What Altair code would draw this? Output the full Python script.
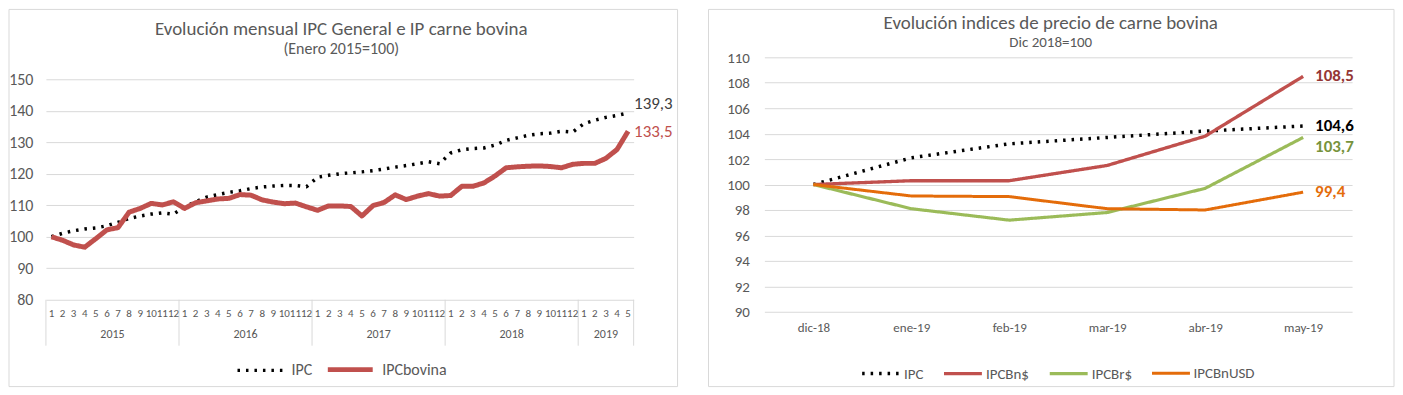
import altair as alt
import pandas as pd

FONT = "Carlito, Liberation Sans Narrow, Liberation Sans, sans-serif"
GRAY = "#595959"
GRID = "#D9D9D9"

# ---------------- left chart data (Enero 2015 = 100) ----------------
anio = [2015, 2015, 2015, 2015, 2015, 2015, 2015, 2015, 2015, 2015, 2015, 2015,
        2016, 2016, 2016, 2016, 2016, 2016, 2016, 2016, 2016, 2016, 2016, 2016,
        2017, 2017, 2017, 2017, 2017, 2017, 2017, 2017, 2017, 2017, 2017, 2017,
        2018, 2018, 2018, 2018, 2018, 2018, 2018, 2018, 2018, 2018, 2018, 2018,
        2019, 2019, 2019, 2019, 2019]
mes = [1, 2, 3, 4, 5, 6, 7, 8, 9, 10, 11, 12,
       1, 2, 3, 4, 5, 6, 7, 8, 9, 10, 11, 12,
       1, 2, 3, 4, 5, 6, 7, 8, 9, 10, 11, 12,
       1, 2, 3, 4, 5, 6, 7, 8, 9, 10, 11, 12,
       1, 2, 3, 4, 5]
ipc = [100.0, 101.1, 101.9, 102.5, 102.8, 103.5, 104.6, 105.8, 106.6, 107.2, 107.6, 107.2,
       109.5, 111.1, 112.6, 113.4, 114.1, 114.6, 115.3, 115.8, 116.1, 116.3, 116.3, 115.9,
       118.9, 119.5, 120.0, 120.3, 120.6, 121.0, 121.5, 122.1, 122.6, 123.2, 123.8, 123.2,
       126.6, 127.6, 128.0, 128.2, 129.1, 130.6, 131.4, 132.2, 132.7, 132.9, 133.5, 133.2,
       135.9, 137.0, 137.9, 138.5, 139.3]
ipc_bovina = [100.0, 98.9, 97.4, 96.7, 99.4, 102.2, 102.9, 107.8, 109.0, 110.6, 110.1, 111.1,
              109.0, 110.8, 111.4, 112.0, 112.2, 113.4, 113.2, 111.7, 111.0, 110.5, 110.7, 109.5,
              108.4, 109.8, 109.8, 109.6, 106.6, 109.9, 110.9, 113.3, 111.8, 112.9, 113.7, 112.9,
              113.1, 116.0, 116.0, 117.1, 119.3, 121.9, 122.2, 122.4, 122.5, 122.3, 121.9, 123.0,
              123.3, 123.3, 124.9, 127.7, 133.5]
series_l = ["IPC", "IPCbovina"]
y_ticks_l = [80, 90, 100, 110, 120, 130, 140, 150]

# ---------------- right chart data (Dic 2018 = 100) ----------------
meses_r = ["dic-18", "ene-19", "feb-19", "mar-19", "abr-19", "may-19"]
r_ipc = [100.0, 102.1, 103.2, 103.7, 104.2, 104.6]
r_bn = [100.0, 100.3, 100.3, 101.5, 103.8, 108.5]
r_br = [100.0, 98.1, 97.2, 97.8, 99.7, 103.7]
r_usd = [100.0, 99.1, 99.05, 98.1, 98.0, 99.4]
series_r = ["IPC", "IPCBn$", "IPCBr$", "IPCBnUSD"]
y_ticks_r = [90, 92, 94, 96, 98, 100, 102, 104, 106, 108, 110]

# ---------------- tables ----------------
n = len(mes)
idx = list(range(n))
left_long = pd.DataFrame({
    "idx": idx * 2,
    "serie": [series_l[0]] * n + [series_l[1]] * n,
    "valor": ipc + ipc_bovina,
})
meses_df = pd.DataFrame({"idx": idx, "mes": mes, "anio": anio})

right_long = pd.DataFrame({
    "mes": meses_r * 4,
    "serie": sum([[s] * len(meses_r) for s in series_r], []),
    "valor": r_ipc + r_bn + r_br + r_usd,
})

one = alt.Data(values=[{"a": 1}])
lbl_expr = "replace(format(datum.valor, '.1f'), '.', ',')"

# ---------------- left panel ----------------
# gridded part 80..150 spans 221 px; plot top shares the right panel's top (22 px higher)
W1, H1 = 589, 243
Y_TOP_L = 80 + 70 * H1 / 221
xs_l = alt.Scale(domain=[-0.5, n - 0.5], nice=False, zero=False)
X_L = alt.X("idx:Q", scale=xs_l, axis=None)
Y_L = alt.Y("valor:Q", scale=alt.Scale(domain=[80, Y_TOP_L], nice=False, zero=False),
            axis=alt.Axis(values=y_ticks_l, title=None, grid=True, gridColor=GRID,
                          domain=False, ticks=False, labelFont=FONT, labelFontSize=16,
                          labelColor=GRAY, labelPadding=13))

leg_l = alt.Legend(title=None, orient="none", legendX=190, legendY=288,
                   direction="horizontal", symbolType="stroke", symbolSize=2025,
                   labelFont=FONT, labelFontSize=16, labelColor=GRAY,
                   labelOffset=7, columnPadding=5, padding=0)

border_l = alt.Chart(one).mark_rect(fill="white", fillOpacity=0, stroke=GRID, strokeWidth=1).encode(
    x=alt.value(-37), x2=alt.value(633), y=alt.value(-48), y2=alt.value(330))

title_l = alt.Chart(one).mark_text(font=FONT, fontSize=19, color=GRAY).encode(
    x=alt.value(296), y=alt.value(-28), text=alt.value("Evolución mensual IPC General e IP carne bovina"))
subtitle_l = alt.Chart(one).mark_text(font=FONT, fontSize=16, color=GRAY).encode(
    x=alt.value(296), y=alt.value(-8), text=alt.value("(Enero 2015=100)"))

lines_l = alt.Chart(left_long).mark_line(strokeJoin="round").encode(
    x=X_L, y=Y_L,
    color=alt.Color("serie:N", scale=alt.Scale(domain=series_l, range=["#000000", "#C0504D"]), legend=leg_l),
    strokeDash=alt.StrokeDash("serie:N", scale=alt.Scale(domain=series_l, range=[[2.5, 6], [1, 0]]), legend=leg_l),
    strokeWidth=alt.StrokeWidth("serie:N", scale=alt.Scale(domain=series_l, range=[3.5, 5]), legend=leg_l),
)

end_ipc = alt.Chart(left_long).transform_filter(
    (alt.datum.idx == n - 1) & (alt.datum.serie == "IPC")
).transform_calculate(lbl=lbl_expr).mark_text(
    align="left", dx=6, dy=-9, font=FONT, fontSize=17, color="#404040"
).encode(x=X_L, y=Y_L, text="lbl:N")
end_bov = alt.Chart(left_long).transform_filter(
    (alt.datum.idx == n - 1) & (alt.datum.serie == "IPCbovina")
).transform_calculate(lbl=lbl_expr).mark_text(
    align="left", dx=6, dy=1, font=FONT, fontSize=17, color="#C0504D"
).encode(x=X_L, y=Y_L, text="lbl:N")

mes_lbl = alt.Chart(meses_df).mark_text(font=FONT, fontSize=11, color=GRAY).encode(
    x=X_L, y=alt.value(H1 + 14), text="mes:N")
anio_lbl = alt.Chart(meses_df).transform_aggregate(
    c="mean(idx)", groupby=["anio"]
).mark_text(font=FONT, fontSize=12, color=GRAY).encode(
    x=alt.X("c:Q", scale=xs_l, axis=None), y=alt.value(H1 + 34), text="anio:N")
sep_a = alt.Chart(meses_df).transform_aggregate(
    lo="min(idx)", groupby=["anio"]
).transform_calculate(b="datum.lo - 0.5").mark_rule(color=GRID, strokeWidth=1).encode(
    x=alt.X("b:Q", scale=xs_l, axis=None), y=alt.value(H1), y2=alt.value(H1 + 46))
sep_b = alt.Chart(meses_df).transform_aggregate(
    hi="max(idx)"
).transform_calculate(b="datum.hi + 0.5").mark_rule(color=GRID, strokeWidth=1).encode(
    x=alt.X("b:Q", scale=xs_l, axis=None), y=alt.value(H1), y2=alt.value(H1 + 46))

left = alt.layer(border_l, title_l, subtitle_l, sep_a, sep_b, mes_lbl, anio_lbl,
                 lines_l, end_ipc, end_bov).properties(width=W1, height=H1)

# ---------------- right panel ----------------
W2, H2 = 589, 255
X_R = alt.X("mes:N", sort=meses_r,
            scale=alt.Scale(type="point", domain=meses_r, padding=0.5),
            axis=alt.Axis(title=None, labelFont=FONT, labelFontSize=13, labelColor=GRAY,
                          ticks=False, domain=False, grid=False, labelAngle=0, labelPadding=10))
Y_R = alt.Y("valor:Q", scale=alt.Scale(domain=[90, 110], nice=False, zero=False),
            axis=alt.Axis(values=y_ticks_r, title=None, grid=True, gridColor=GRID,
                          domain=False, ticks=False, labelFont=FONT, labelFontSize=15,
                          labelColor=GRAY, labelPadding=15))

leg_r = alt.Legend(title=None, orient="none", legendX=96, legendY=296,
                   direction="horizontal", symbolType="stroke", symbolSize=1444,
                   labelFont=FONT, labelFontSize=15, labelColor=GRAY,
                   labelOffset=2, columnPadding=13, padding=0)

border_r = alt.Chart(one).mark_rect(fill="white", fillOpacity=0, stroke=GRID, strokeWidth=1).encode(
    x=alt.value(-56), x2=alt.value(631), y=alt.value(-48), y2=alt.value(330))
title_r = alt.Chart(one).mark_text(font=FONT, fontSize=19, color=GRAY).encode(
    x=alt.value(287), y=alt.value(-34), text=alt.value("Evolución indices de precio de carne bovina"))
subtitle_r = alt.Chart(one).mark_text(font=FONT, fontSize=15, color=GRAY).encode(
    x=alt.value(287), y=alt.value(-15), text=alt.value("Dic 2018=100"))

colors_r = ["#000000", "#C0504D", "#9BBB59", "#E46C0A"]
lines_r = alt.Chart(right_long).mark_line(strokeJoin="round").encode(
    x=X_R, y=Y_R,
    color=alt.Color("serie:N", scale=alt.Scale(domain=series_r, range=colors_r), legend=leg_r),
    strokeDash=alt.StrokeDash("serie:N", scale=alt.Scale(domain=series_r,
                              range=[[2.5, 6], [1, 0], [1, 0], [1, 0]]), legend=leg_r),
    strokeWidth=alt.StrokeWidth("serie:N", scale=alt.Scale(domain=series_r,
                                range=[3.5, 3, 3, 3]), legend=leg_r),
)

label_colors_r = {"IPC": "#000000", "IPCBn$": "#953735", "IPCBr$": "#77933C", "IPCBnUSD": "#E46C0A"}
label_dy_r = {"IPC": 0, "IPCBn$": 0, "IPCBr$": 10, "IPCBnUSD": 0}
end_r = []
for s in series_r:
    end_r.append(
        alt.Chart(right_long).transform_filter(
            (alt.datum.mes == meses_r[-1]) & (alt.datum.serie == s)
        ).transform_calculate(lbl=lbl_expr).mark_text(
            align="left", dx=12, dy=label_dy_r[s], font=FONT, fontSize=17,
            fontWeight="bold", color=label_colors_r[s]
        ).encode(x=X_R, y=Y_R, text="lbl:N")
    )

right = alt.layer(border_r, title_r, subtitle_r, lines_r, *end_r).properties(width=W2, height=H2)

chart = alt.hconcat(left, right, spacing=29).resolve_scale(
    color="independent", strokeDash="independent", strokeWidth="independent",
    x="independent", y="independent"
).resolve_legend(
    color="independent", strokeDash="independent", strokeWidth="independent"
).properties(padding=0, background="white").configure_view(stroke=None)

chart.save("out.html", embed_options={"renderer": "svg", "actions": False})
